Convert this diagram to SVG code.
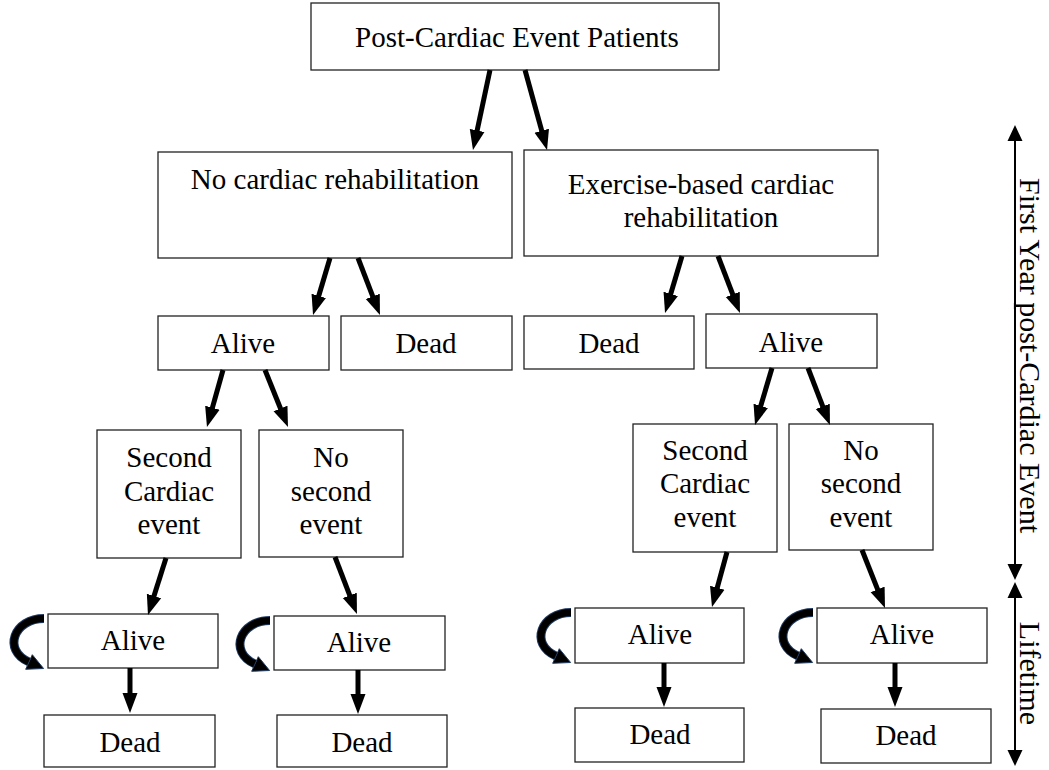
<svg xmlns="http://www.w3.org/2000/svg" xmlns:xlink="http://www.w3.org/1999/xlink" width="1049" height="770" viewBox="0 0 1049 770">
<style>
.box{fill:#fff;stroke:#222;stroke-width:1.3}
.t{font-family:"Liberation Serif","Times New Roman",serif;font-size:29px;fill:#000;text-anchor:middle}
.side{font-family:"Liberation Serif","Times New Roman",serif;font-size:30px;fill:#000;text-anchor:middle}
.a{stroke:#000;stroke-width:5;fill:none;marker-end:url(#ah)}
.d{stroke:#000;stroke-width:2;fill:none;marker-start:url(#ah2);marker-end:url(#ah2)}
</style>
<defs>
<marker id="ah" viewBox="0 -8 20 16" markerWidth="20" markerHeight="16" refX="4" refY="0" orient="auto" markerUnits="userSpaceOnUse"><path d="M0,-7.5 L20,0 L0,7.5 Z" fill="#000"/></marker>
<marker id="ah2" viewBox="0 -8 16 16" markerWidth="16" markerHeight="16" refX="4" refY="0" orient="auto-start-reverse" markerUnits="userSpaceOnUse"><path d="M0,-7.5 L16,0 L0,7.5 Z" fill="#000"/></marker>
<g id="loop">
<path d="M-4,4.5 C-34,4.5 -46,36 -19,48" fill="none" stroke="#1f3a60" stroke-width="9"/>
<path d="M-4,4.5 C-34,4.5 -46,36 -19,48" fill="none" stroke="#000" stroke-width="7"/>
<polygon points="-22.3,55.3 -4.4,54.5 -15.7,40.7" fill="#000" stroke="#1f3a60" stroke-width="1"/>
</g>
</defs>
<rect width="1049" height="770" fill="#fff"/>

<g id="n-top"><rect class="box" x="311" y="3" width="408" height="67"/><text class="t" x="517" y="47">Post-Cardiac Event Patients</text></g>
<g id="n-nocr"><rect class="box" x="158" y="152" width="354" height="106"/><text class="t" x="335" y="189">No cardiac rehabilitation</text></g>
<g id="n-ex"><rect class="box" x="524" y="150" width="354" height="106"/><text class="t" x="701" y="194">Exercise-based cardiac</text><text class="t" x="701" y="227">rehabilitation</text></g>
<g id="n-alive-l"><rect class="box" x="158" y="316" width="171" height="54"/><text class="t" x="243" y="353">Alive</text></g>
<g id="n-dead-l"><rect class="box" x="341" y="316" width="171" height="54"/><text class="t" x="426" y="353">Dead</text></g>
<g id="n-dead-r"><rect class="box" x="524" y="316" width="170" height="53"/><text class="t" x="609" y="353">Dead</text></g>
<g id="n-alive-r"><rect class="box" x="706" y="314" width="171" height="54"/><text class="t" x="791" y="352">Alive</text></g>
<g id="n-sec-l"><rect class="box" x="97" y="430" width="144" height="128"/><text class="t" x="169" y="467">Second</text><text class="t" x="169" y="500.5">Cardiac</text><text class="t" x="169" y="534">event</text></g>
<g id="n-nosec-l"><rect class="box" x="259" y="430" width="144" height="127"/><text class="t" x="331" y="467">No</text><text class="t" x="331" y="500.5">second</text><text class="t" x="331" y="534">event</text></g>
<g id="n-sec-r"><rect class="box" x="633" y="424" width="144" height="128"/><text class="t" x="705" y="460">Second</text><text class="t" x="705" y="493">Cardiac</text><text class="t" x="705" y="527">event</text></g>
<g id="n-nosec-r"><rect class="box" x="789" y="424" width="144" height="126"/><text class="t" x="861" y="460">No</text><text class="t" x="861" y="493">second</text><text class="t" x="861" y="527">event</text></g>
<g id="n-alive1"><rect class="box" x="48" y="614" width="170" height="54"/><text class="t" x="133" y="650">Alive</text></g>
<g id="n-alive2"><rect class="box" x="274" y="616" width="171" height="54"/><text class="t" x="359" y="652">Alive</text></g>
<g id="n-alive3"><rect class="box" x="575" y="608" width="169" height="55"/><text class="t" x="660" y="644">Alive</text></g>
<g id="n-alive4"><rect class="box" x="817" y="608" width="170" height="55"/><text class="t" x="902" y="644">Alive</text></g>
<g id="n-dead1"><rect class="box" x="44" y="715" width="171" height="52"/><text class="t" x="130" y="752">Dead</text></g>
<g id="n-dead2"><rect class="box" x="277" y="715" width="170" height="52"/><text class="t" x="362" y="752">Dead</text></g>
<g id="n-dead3"><rect class="box" x="575" y="708" width="169" height="54"/><text class="t" x="660" y="744">Dead</text></g>
<g id="n-dead4"><rect class="box" x="821" y="709" width="170" height="54"/><text class="t" x="906" y="745">Dead</text></g>

<g id="connectors">
<line class="a" x1="490" y1="70" x2="476.3" y2="134.4"/>
<line class="a" x1="525" y1="70" x2="542.8" y2="134.6"/>
<line class="a" x1="330" y1="258" x2="317.6" y2="299.7"/>
<line class="a" x1="358" y1="258" x2="374.2" y2="300.1"/>
<line class="a" x1="682" y1="256" x2="669.6" y2="297.7"/>
<line class="a" x1="718" y1="256" x2="734.2" y2="298.1"/>
<line class="a" x1="223" y1="370" x2="211.3" y2="411.6"/>
<line class="a" x1="265" y1="370" x2="282" y2="412.2"/>
<line class="a" x1="772" y1="368" x2="759.6" y2="409.7"/>
<line class="a" x1="808" y1="368" x2="824.2" y2="410.1"/>
<line class="a" x1="166" y1="558" x2="152.8" y2="599.8"/>
<line class="a" x1="335" y1="557" x2="351.2" y2="599.1"/>
<line class="a" x1="727" y1="552" x2="716.2" y2="591.6"/>
<line class="a" x1="862" y1="550" x2="879.1" y2="593.1"/>
<line class="a" x1="130" y1="668" x2="130" y2="697"/>
<line class="a" x1="358" y1="670" x2="358" y2="698"/>
<line class="a" x1="664" y1="663" x2="664" y2="691"/>
<line class="a" x1="895" y1="663" x2="895" y2="691"/>
<use xlink:href="#loop" href="#loop" x="48" y="614"/>
<use xlink:href="#loop" href="#loop" x="274" y="616"/>
<use xlink:href="#loop" href="#loop" x="575" y="608"/>
<use xlink:href="#loop" href="#loop" x="817" y="608"/>
<line class="d" x1="1015" y1="137" x2="1015" y2="568"/>
<line class="d" x1="1015" y1="594" x2="1015" y2="754"/>
</g>

<g id="labels">
<text class="side" transform="translate(1020,355.5) rotate(90)">First Year post-Cardiac Event</text>
<text class="side" transform="translate(1020,673.5) rotate(90)">Lifetime</text>
</g>
</svg>
